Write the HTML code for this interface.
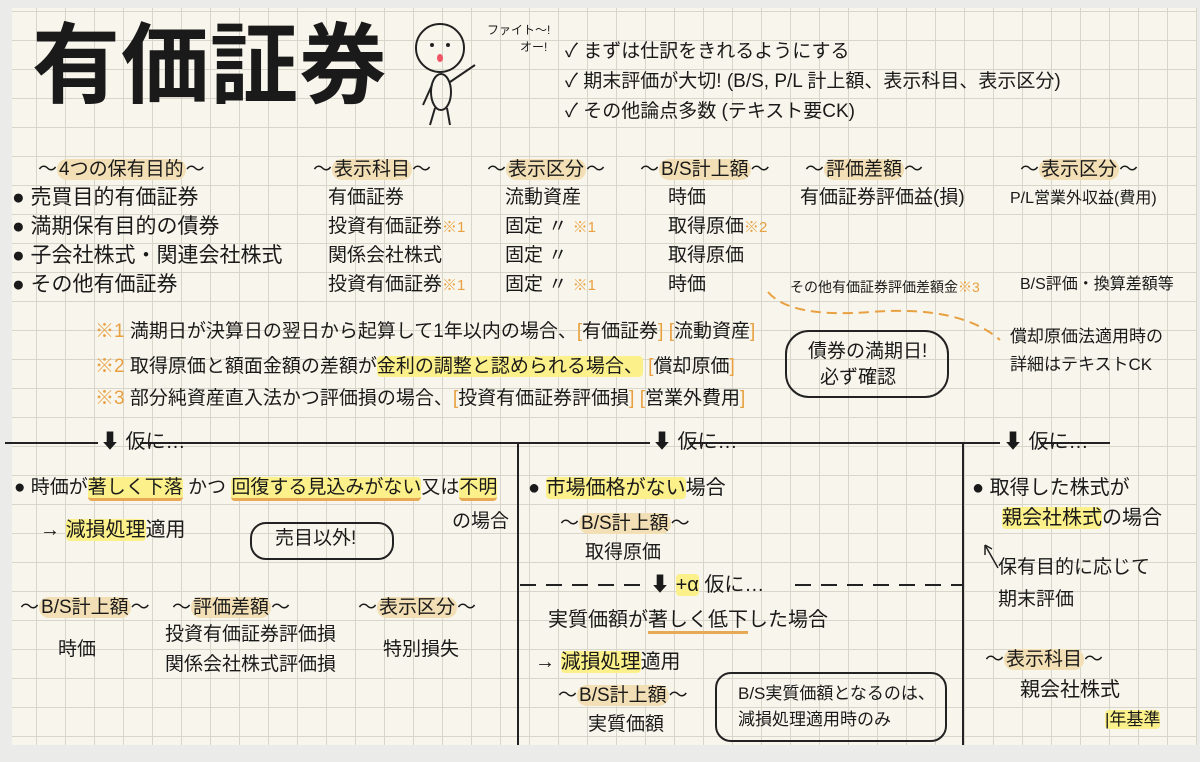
<!DOCTYPE html>
<html><head><meta charset="utf-8"><style>
body{margin:0;width:1200px;height:762px;background:#ebebea;overflow:hidden;font-family:"Liberation Sans","Noto Sans CJK JP",sans-serif;color:#1a1a1a}
#p{position:absolute;left:12px;top:8px;width:1185px;height:737px;background-color:#f8f6ec;background-image:linear-gradient(#d8d6ca 1px,transparent 1px),linear-gradient(90deg,#d8d6ca 1px,transparent 1px);background-size:29px 29px;background-position:-5px 3px}
.t{position:absolute;font-size:19px;line-height:24px;white-space:nowrap}
.h{background:#f3dfb5;border-radius:10px;padding:0 2px}
.y{background:#fbf08a;border-radius:4px}
.u{border-bottom:3px solid #e8a956}
.o{color:#e8a041}
.b{position:absolute;border:2px solid #222;border-radius:14px}
.s{font-size:15px}
</style></head><body>
<div id="p"></div>
<div class="t" style="left:32px;top:14px;font-size:88px;line-height:104px;font-weight:bold;letter-spacing:1px">有価証券</div>
<svg style="position:absolute;left:405px;top:10px" width="90" height="120">
<circle cx="35" cy="38" r="24" fill="none" stroke="#222" stroke-width="2"/>
<circle cx="27" cy="35" r="2" fill="#222"/><circle cx="43" cy="35" r="2" fill="#222"/>
<ellipse cx="35" cy="48" rx="3" ry="4" fill="#e56"/>
<ellipse cx="36" cy="82" rx="10" ry="18" fill="none" stroke="#222" stroke-width="2"/>
<path d="M30 98 L25 115 M42 98 L45 115 M45 72 L70 55 M27 75 L18 95" stroke="#222" stroke-width="2" fill="none"/>
</svg>
<div class="t s" style="left:487px;top:18px;font-size:12px">ファイト〜!</div>
<div class="t s" style="left:520px;top:35px;font-size:12px">オー!</div>
<div class="t" style="left:565px;top:40px">✓ まずは仕訳をきれるようにする</div>
<div class="t" style="left:565px;top:70px">✓ 期末評価が大切! (B/S, P/L 計上額、表示科目、表示区分)</div>
<div class="t" style="left:565px;top:100px">✓ その他論点多数 (テキスト要CK)</div>

<div class="t" style="left:38px;top:158px">〜<span class="h">4つの保有目的</span>〜</div>
<div class="t" style="left:313px;top:158px">〜<span class="h">表示科目</span>〜</div>
<div class="t" style="left:487px;top:158px">〜<span class="h">表示区分</span>〜</div>
<div class="t" style="left:640px;top:158px">〜<span class="h">B/S計上額</span>〜</div>
<div class="t" style="left:805px;top:158px">〜<span class="h">評価差額</span>〜</div>
<div class="t" style="left:1020px;top:158px">〜<span class="h">表示区分</span>〜</div>

<div class="t" style="left:12px;top:186px;font-size:21px">● 売買目的有価証券</div>
<div class="t" style="left:12px;top:215px;font-size:21px">● 満期保有目的の債券</div>
<div class="t" style="left:12px;top:244px;font-size:21px">● 子会社株式・関連会社株式</div>
<div class="t" style="left:12px;top:273px;font-size:21px">● その他有価証券</div>
<div class="t" style="left:328px;top:186px">有価証券</div>
<div class="t" style="left:328px;top:215px">投資有価証券<span class="o s">※1</span></div>
<div class="t" style="left:328px;top:244px">関係会社株式</div>
<div class="t" style="left:328px;top:273px">投資有価証券<span class="o s">※1</span></div>
<div class="t" style="left:505px;top:186px">流動資産</div>
<div class="t" style="left:505px;top:215px">固定 〃 <span class="o s">※1</span></div>
<div class="t" style="left:505px;top:244px">固定 〃</div>
<div class="t" style="left:505px;top:273px">固定 〃 <span class="o s">※1</span></div>
<div class="t" style="left:668px;top:186px">時価</div>
<div class="t" style="left:668px;top:215px">取得原価<span class="o s">※2</span></div>
<div class="t" style="left:668px;top:244px">取得原価</div>
<div class="t" style="left:668px;top:273px">時価</div>
<div class="t" style="left:800px;top:186px">有価証券評価益(損)</div>
<div class="t" style="left:790px;top:275px;font-size:14px">その他有価証券評価差額金<span class="o">※3</span></div>
<div class="t" style="left:1010px;top:187px;font-size:16px">P/L営業外収益(費用)</div>
<div class="t" style="left:1020px;top:273px;font-size:16px">B/S評価・換算差額等</div>
<svg style="position:absolute;left:0;top:0" width="1200" height="762">
<path d="M768 292 Q790 318 870 312 Q960 305 1000 340" stroke="#e8a041" stroke-width="2" fill="none" stroke-dasharray="10 6"/>
<path d="M5 443 H98 M140 443 H650 M690 443 H1000 M1040 443 H1110" stroke="#222" stroke-width="2"/>
<path d="M518 443 V745 M963 443 V745" stroke="#222" stroke-width="2"/>
<path d="M520 585 H645 M795 585 H963" stroke="#222" stroke-width="2" stroke-dasharray="16 10"/>
<path d="M985 545 L998 568 M985 545 L985 555 M985 545 L992 549" stroke="#222" stroke-width="1.5" fill="none"/>
</svg>
<div class="t" style="left:95px;top:320px"><span class="o">※1</span> 満期日が決算日の翌日から起算して1年以内の場合、<span class="o">[</span>有価証券<span class="o">] [</span>流動資産<span class="o">]</span></div>
<div class="t" style="left:95px;top:355px"><span class="o">※2</span> 取得原価と額面金額の差額が<span class="y">金利の調整と認められる場合、</span> <span class="o">[</span>償却原価<span class="o">]</span></div>
<div class="t" style="left:95px;top:387px"><span class="o">※3</span> 部分純資産直入法かつ評価損の場合、<span class="o">[</span>投資有価証券評価損<span class="o">] [</span>営業外費用<span class="o">]</span></div>
<div class="b" style="left:785px;top:330px;width:160px;height:64px;border-radius:24px"></div>
<div class="t" style="left:808px;top:340px">債券の満期日!</div>
<div class="t" style="left:820px;top:366px">必ず確認</div>
<div class="t" style="left:1010px;top:325px;font-size:17px">償却原価法適用時の</div>
<div class="t" style="left:1010px;top:353px;font-size:17px">詳細はテキストCK</div>

<div class="t" style="left:100px;top:430px;font-size:20px">⬇ 仮に…</div>
<div class="t" style="left:652px;top:430px;font-size:20px">⬇ 仮に…</div>
<div class="t" style="left:1003px;top:430px;font-size:20px">⬇ 仮に…</div>

<div class="t" style="left:14px;top:476px;font-size:19px">● 時価が<span class="y u">著しく下落</span> かつ <span class="y u">回復する見込みがない</span>又は<span class="y u">不明</span></div>
<div class="t" style="left:452px;top:510px">の場合</div>
<div class="t" style="left:40px;top:518px;font-size:20px">→ <span class="y">減損処理</span>適用</div>
<div class="b" style="left:250px;top:522px;width:140px;height:34px;border-radius:16px"></div>
<div class="t" style="left:275px;top:527px">売目以外!</div>
<div class="t" style="left:20px;top:596px">〜<span class="h">B/S計上額</span>〜</div>
<div class="t" style="left:172px;top:596px">〜<span class="h">評価差額</span>〜</div>
<div class="t" style="left:358px;top:596px">〜<span class="h">表示区分</span>〜</div>
<div class="t" style="left:58px;top:638px">時価</div>
<div class="t" style="left:165px;top:623px">投資有価証券評価損</div>
<div class="t" style="left:165px;top:653px">関係会社株式評価損</div>
<div class="t" style="left:383px;top:638px">特別損失</div>

<div class="t" style="left:528px;top:476px;font-size:20px">● <span class="y">市場価格がない</span>場合</div>
<div class="t" style="left:560px;top:512px">〜<span class="h">B/S計上額</span>〜</div>
<div class="t" style="left:585px;top:541px">取得原価</div>
<div class="t" style="left:650px;top:573px;font-size:20px">⬇ <span class="y">+α</span> 仮に…</div>
<div class="t" style="left:548px;top:608px;font-size:20px">実質価額が<span class="u">著しく低下</span>した場合</div>
<div class="t" style="left:535px;top:650px;font-size:20px">→ <span class="y">減損処理</span>適用</div>
<div class="t" style="left:558px;top:684px">〜<span class="h">B/S計上額</span>〜</div>
<div class="t" style="left:588px;top:713px">実質価額</div>
<div class="b" style="left:715px;top:672px;width:228px;height:66px;border-radius:16px"></div>
<div class="t" style="left:738px;top:682px;font-size:17px">B/S実質価額となるのは、</div>
<div class="t" style="left:738px;top:708px;font-size:17px">減損処理適用時のみ</div>

<div class="t" style="left:972px;top:476px;font-size:20px">● 取得した株式が</div>
<div class="t" style="left:1002px;top:506px;font-size:20px"><span class="y">親会社株式</span>の場合</div>
<div class="t" style="left:998px;top:556px">保有目的に応じて</div>
<div class="t" style="left:998px;top:588px">期末評価</div>
<div class="t" style="left:985px;top:648px">〜<span class="h">表示科目</span>〜</div>
<div class="t" style="left:1020px;top:678px;font-size:20px">親会社株式</div>
<div class="t" style="left:1105px;top:708px;font-size:17px"><span class="y">|年基準</span></div>
</body></html>
